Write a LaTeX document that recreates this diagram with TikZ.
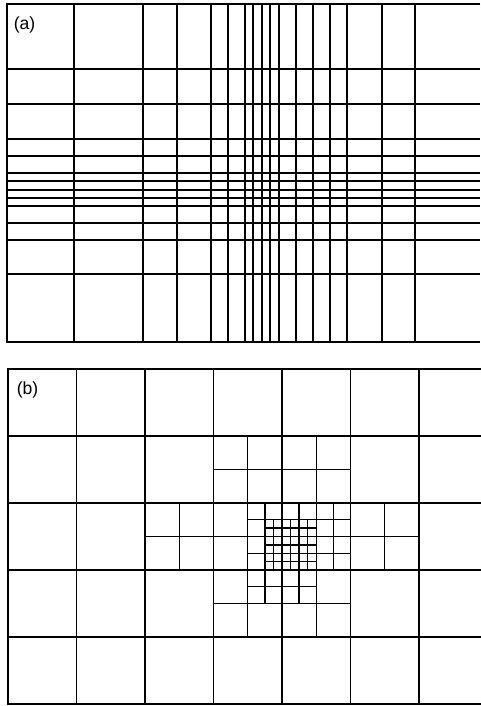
\documentclass[tikz,border=0pt]{standalone}
\usepackage{fontspec}
\setmainfont{Liberation Sans}
\begin{document}
\begin{tikzpicture}[x=0.03cm, y=-0.03cm, every node/.style={font=\fontsize{15}{17}\selectfont, inner sep=0pt},
  gridline/.style={line width=1.1pt, black}]
  \useasboundingbox (0,0) rectangle (480,706);
  % (a) graded mesh
  \draw[gridline] (480,4) -- (7,4) -- (7,342) -- (480,342);
  \foreach \x in {74,143,177,211,228,245,253,262,270,279,296,313,330,347,382,415}
    \draw[gridline] (\x,4) -- (\x,342);
  \foreach \y in {69,104,139,156,173,181,190,198,206,223,240,274}
    \draw[gridline] (7,\y) -- (480,\y);
  \node (labela) at (24.5,24.5) {(a)};
  % (b) locally refined mesh, one unit = one coarse cell
  \begin{scope}[shift={(8,369)}, xscale=68.5, yscale=67]
    \draw[gridline] (6.9,0) -- (0,0) -- (0,5) -- (6.9,5);
    \foreach \u in {1,...,6}
      \draw[gridline] (\u,0) -- (\u,5);
    \foreach \v in {1,...,4}
      \draw[gridline] (0,\v) -- (6.9,\v);
    % halves
    \foreach \a/\b/\c/\d in {3/1.5/5/1.5, 3.5/1/3.5/4, 4.5/1/4.5/4, 2/2.5/6/2.5,
        2.5/2/2.5/3, 5.5/2/5.5/3, 3/3.5/5/3.5}
      \draw[gridline] (\a,\b) -- (\c,\d);
    % quarters
    \foreach \a/\b/\c/\d in {3.5/2.25/5/2.25, 3.5/2.75/5/2.75, 3.75/2/3.75/3.5,
        4.25/2/4.25/3.5, 4.75/2/4.75/3, 3.5/3.25/4.5/3.25}
      \draw[gridline] (\a,\b) -- (\c,\d);
    % eighths
    \foreach \f in {3.875,4.125,4.375}
      \draw[gridline] (\f,2.25) -- (\f,3);
    \foreach \f in {2.375,2.625,2.875}
      \draw[gridline] (3.75,\f) -- (4.5,\f);
  \end{scope}
  \node (labelb) at (27.5,390) {(b)};
\end{tikzpicture}
\end{document}
